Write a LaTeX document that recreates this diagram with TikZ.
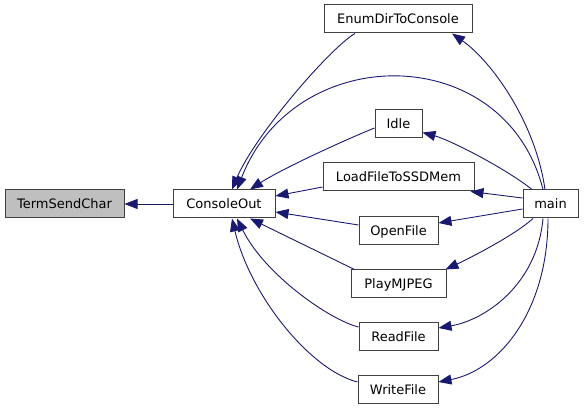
\documentclass[tikz,border=0pt]{standalone}
\usepackage{fontspec}
\setmainfont{DejaVu Sans}
\usetikzlibrary{arrows.meta}
\definecolor{edgeblue}{RGB}{25,25,112}

\begin{document}
\begin{tikzpicture}[
  x=1pt, y=-1pt,
  font=\fontsize{13}{15}\selectfont,
  fnode/.style={rectangle, draw=black!75, line width=1pt, fill=white,
    inner sep=0pt, minimum height=28pt, text height=9.5pt, text depth=0pt},
  hl/.style={fnode, fill=black!25},
  arr/.style={-{Triangle[length=13pt,width=10pt,fill=edgeblue]},
    draw=edgeblue, line width=0.9pt}
]
\useasboundingbox (0,0) rectangle (584,411);

\node[hl, minimum width=119pt] (TermSendChar) at (64.5,204) {TermSendChar};
\node[fnode, minimum width=102pt] (ConsoleOut) at (224,204) {ConsoleOut};

\node[fnode, minimum width=148pt] (EnumDirToConsole) at (398,19) {EnumDirToConsole};
\node[fnode, minimum width=47pt] (Idle) at (398.5,124) {Idle};
\node[fnode, minimum width=151pt] (LoadFileToSSDMem) at (398.5,177) {LoadFileToSSDMem};
\node[fnode, minimum width=79pt] (OpenFile) at (398.5,231) {OpenFile};
\node[fnode, minimum width=95pt] (PlayMJPEG) at (398.5,284) {PlayMJPEG};
\node[fnode, minimum width=79pt] (ReadFile) at (398.5,337) {ReadFile};
\node[fnode, minimum width=80pt] (WriteFile) at (398,390) {WriteFile};

\node[fnode, minimum width=55pt] (main) at (550.5,204) {main};

% callers of ConsoleOut
\draw[arr] (ConsoleOut.west) -- (TermSendChar.east);
\draw[arr] ([xshift=-43pt]EnumDirToConsole.south) .. controls (330,48) and (255,135) .. ([xshift=8pt]ConsoleOut.north);
\draw[arr] ([xshift=-7.5pt]main.north) .. controls (505,40) and (295,40) .. ([xshift=13pt]ConsoleOut.north);
\draw[arr] ([yshift=-4pt]Idle.west) .. controls (340,142) and (280,170) .. ([xshift=26pt]ConsoleOut.north);
\draw[arr] ([yshift=-10pt]LoadFileToSSDMem.west) -- ([yshift=8pt]ConsoleOut.east);
\draw[arr] ([yshift=6pt]OpenFile.west) -- ([yshift=-8pt]ConsoleOut.east);
\draw[arr] ([xshift=4pt]PlayMJPEG.north west) -- ([xshift=26pt]ConsoleOut.south);
\draw[arr] ([yshift=10pt]ReadFile.west) .. controls (330,320) and (265,275) .. ([xshift=13pt]ConsoleOut.south);
\draw[arr] ([yshift=8pt]WriteFile.west) .. controls (310,370) and (250,295) .. ([xshift=8pt]ConsoleOut.south);

% callers from main
\draw[arr] ([xshift=-5.5pt]main.north) .. controls (535,120) and (490,60) .. ([xshift=54pt]EnumDirToConsole.south);
\draw[arr] ([xshift=-18.5pt]main.north) .. controls (505,168) and (450,140) .. ([yshift=6pt]Idle.south east);
\draw[arr] ([yshift=6pt]main.west) -- ([xshift=-4pt]LoadFileToSSDMem.south east);
\draw[arr] ([yshift=-5pt]main.west) -- ([yshift=8pt]OpenFile.east);
\draw[arr] ([xshift=-17.5pt]main.south) .. controls (515,235) and (470,258) .. ([xshift=-1pt]PlayMJPEG.north east);
\draw[arr] ([xshift=-7.5pt]main.south) .. controls (537,285) and (485,320) .. ([yshift=9pt]ReadFile.east);
\draw[arr] ([xshift=-2.5pt]main.south) .. controls (548,310) and (500,370) .. ([yshift=8pt]WriteFile.east);
\end{tikzpicture}
\end{document}
